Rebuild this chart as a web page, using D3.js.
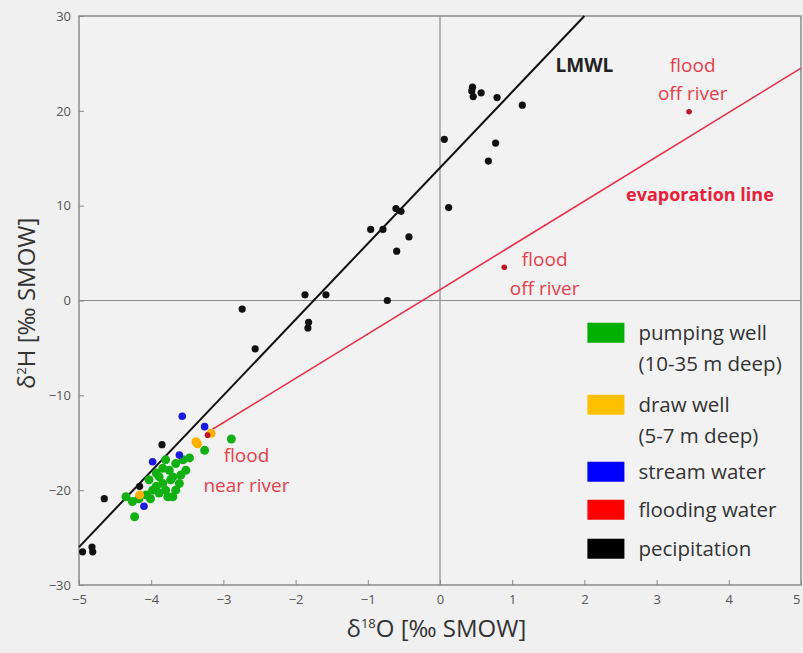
<!DOCTYPE html>
<html>
<head>
<meta charset="utf-8">
<script src="https://cdn.jsdelivr.net/npm/d3@7"></script>
<style>
  body { margin: 0; background: #f0f0f0; }
  svg { display: block; font-family: "Open Sans", sans-serif; }
</style>
</head>
<body>
<svg width="803" height="653"></svg>
<script>
// precipitation (black)
var precipX = [0.45, 0.44, 0.46, 0.57, 0.79, 1.14, 0.06, 0.77, 0.67, 0.12,
  -0.61, -0.54, -0.96, -0.79, -0.43, -0.60, -1.87, -1.58, -0.73, -2.74,
  -1.82, -1.83, -2.56, -3.85, -4.65, -4.16, -4.95, -4.82, -4.81];
var precipY = [22.5, 22.1, 21.5, 21.9, 21.4, 20.6, 17.0, 16.6, 14.7, 9.8,
  9.7, 9.4, 7.5, 7.5, 6.7, 5.2, 0.6, 0.6, 0.0, -0.9,
  -2.3, -2.9, -5.1, -15.2, -20.9, -19.6, -26.5, -26.0, -26.5];

// pumping well (green)
var pumpX = [-4.35, -4.26, -4.23, -4.07, -4.03, -3.93, -3.89, -3.84, -3.80, -3.75,
  -3.70, -3.70, -3.66, -3.61, -3.56, -3.52, -3.47, -3.84, -3.77, -3.98,
  -3.89, -3.66, -3.73, -3.59, -3.93, -4.17, -4.01, -3.26, -2.89, -3.80];
var pumpY = [-20.7, -21.2, -22.8, -20.5, -18.9, -19.6, -18.6, -19.3, -20.0, -17.9,
  -18.6, -20.7, -17.2, -19.3, -16.8, -17.9, -16.6, -17.7, -20.7, -20.0,
  -20.3, -20.0, -18.9, -18.4, -18.2, -20.9, -20.9, -15.8, -14.6, -16.8];

// draw well (orange)
var drawX = [-3.36, -3.17, -4.16, -3.38];
var drawY = [-15.1, -14.0, -20.5, -14.9];

// stream water (blue)
var streamX = [-3.57, -3.26, -3.61, -4.10, -3.98];
var streamY = [-12.2, -13.3, -16.3, -21.7, -17.0];

// flooding water (red)
var floodX = [-3.22, 0.89, 3.45];
var floodY = [-14.2, 3.5, 19.9];

var xTicks = [-5, -4, -3, -2, -1, 0, 1, 2, 3, 4, 5];
var yTicks = [-30, -20, -10, 0, 10, 20, 30];

// lines: LMWL d2H = 8*d18O + 14, evaporation line from flood near river
var lmwlX = [-5, 2];
var lmwlY = [-26, 30];
var evapX = [-3.24, 5];
var evapY = [-14.0, 24.5];

var legendNames = [["pumping well", "(10-35 m deep)"], ["draw well", "(5-7 m deep)"],
  ["stream water"], ["flooding water"], ["pecipitation"]];
var legendColors = ["#00b000", "#ffc000", "#0000ff", "#ff0000", "#000000"];

var svg = d3.select("svg");
var margin = {top: 16, right: 2, bottom: 68, left: 79};
var plotWidth = 803 - margin.left - margin.right;
var plotHeight = 653 - margin.top - margin.bottom;

var x = d3.scaleLinear().domain([-5, 5]).range([0, plotWidth]);
var y = d3.scaleLinear().domain([-30, 30]).range([plotHeight, 0]);

var plot = svg.append("g")
  .attr("transform", "translate(" + margin.left + "," + margin.top + ")");

plot.append("rect")
  .attr("width", plotWidth).attr("height", plotHeight)
  .attr("fill", "#f2f2f2").attr("stroke", "#8a8a8a").attr("stroke-width", 1.5);

// zero lines
plot.append("line")
  .attr("x1", x(0)).attr("x2", x(0)).attr("y1", 0).attr("y2", plotHeight)
  .attr("stroke", "#8a8a8a").attr("stroke-width", 1.2);
plot.append("line")
  .attr("x1", 0).attr("x2", plotWidth).attr("y1", y(0)).attr("y2", y(0))
  .attr("stroke", "#8a8a8a").attr("stroke-width", 1.2);

var xAxis = d3.axisBottom(x).tickValues(xTicks).tickSize(-5).tickPadding(10);
var yAxis = d3.axisLeft(y).tickValues(yTicks).tickSize(-5).tickPadding(8);

var xGroup = plot.append("g").attr("transform", "translate(0," + plotHeight + ")").call(xAxis);
var yGroup = plot.append("g").call(yAxis);
[xGroup, yGroup].forEach(function(g) {
  g.select(".domain").remove();
  g.selectAll("line").attr("stroke", "#8a8a8a");
  g.selectAll("text").style("font-size", "13px").attr("fill", "#555")
    .style("font-family", "'Open Sans', sans-serif");
});
// last x label sits on the right edge, keep it inside
xGroup.selectAll(".tick").filter(function(d) { return d === 5; })
  .select("text").attr("text-anchor", "end").attr("dx", -1);

// lines
var line = d3.line().x(function(d) { return x(d[0]); }).y(function(d) { return y(d[1]); });
plot.append("path")
  .datum(d3.zip(evapX, evapY))
  .attr("d", line).attr("fill", "none").attr("stroke", "#e8304a").attr("stroke-width", 1.6);
plot.append("path")
  .datum(d3.zip(lmwlX, lmwlY))
  .attr("d", line).attr("fill", "none").attr("stroke", "#111").attr("stroke-width", 2);

function drawPoints(xs, ys, color, r) {
  plot.append("g").selectAll("circle")
    .data(d3.zip(xs, ys))
    .enter().append("circle")
    .attr("cx", function(d) { return x(d[0]); })
    .attr("cy", function(d) { return y(d[1]); })
    .attr("r", r)
    .attr("fill", color);
}

drawPoints(pumpX, pumpY, "#12b012", 4.5);
drawPoints(drawX, drawY, "#ffb000", 4.5);
drawPoints(streamX, streamY, "#1a1ae0", 3.8);
drawPoints(precipX, precipY, "#111", 3.6);
drawPoints(floodX, floodY, "#c0102a", 2.8);

// annotations
var red = "#e8404a";
function note(px, py, txt, color, weight, size) {
  plot.append("text")
    .attr("x", px).attr("y", py)
    .attr("dy", "0.35em")
    .attr("text-anchor", "middle")
    .style("font-size", (size || 19) + "px")
    .style("font-weight", weight || "normal")
    .attr("fill", color)
    .text(txt);
}
note(x(3.5), y(24.8), "flood", red);
note(x(3.5), y(21.8), "off river", red);
note(x(3.6), y(11.2), "evaporation line", "#e8203a", "bold", 18);
note(x(1.45), y(4.3), "flood", red);
note(x(1.45), y(1.3), "off river", red);
note(x(-2.68), y(-16.3), "flood", red);
note(x(-2.68), y(-19.5), "near river", red);
note(x(2.0), y(24.8), "LMWL", "#222", "bold", 19);

// legend
var legend = plot.selectAll(".legend")
  .data(legendNames)
  .enter().append("g")
  .attr("class", "legend")
  .attr("transform", function(d, i) {
    var offs = [0, 72, 139, 177, 216];
    return "translate(" + (x(2.0) + 3) + "," + (y(-3.4) + offs[i]) + ")";
  });

legend.append("rect")
  .attr("x", 0).attr("y", -10).attr("width", 37).attr("height", 20)
  .attr("fill", function(d, i) { return legendColors[i]; });

legend.each(function(d) {
  var g = d3.select(this);
  d.forEach(function(t, j) {
    g.append("text")
      .attr("x", 51).attr("y", j * 31)
      .attr("dy", "0.35em")
      .style("font-size", "20.5px")
      .attr("fill", "#333")
      .text(t);
  });
});

// axis titles
var xt = svg.append("text")
  .attr("x", margin.left + x(-0.05)).attr("y", 637)
  .attr("text-anchor", "middle")
  .style("font-size", "24px")
  .attr("fill", "#333");
xt.append("tspan").text("δ");
xt.append("tspan").attr("dy", -9).style("font-size", "13px").text("18");
xt.append("tspan").attr("dy", 9).text("O [‰ SMOW]");

var yt = svg.append("text")
  .attr("transform", "translate(27," + (margin.top + y(-0.3)) + ") rotate(-90)")
  .attr("text-anchor", "middle")
  .attr("dy", "0.35em")
  .style("font-size", "24px")
  .attr("fill", "#333");
yt.append("tspan").text("δ");
yt.append("tspan").attr("dy", -9).style("font-size", "13px").text("2");
yt.append("tspan").attr("dy", 9).text("H [‰ SMOW]");
</script>
</body>
</html>
